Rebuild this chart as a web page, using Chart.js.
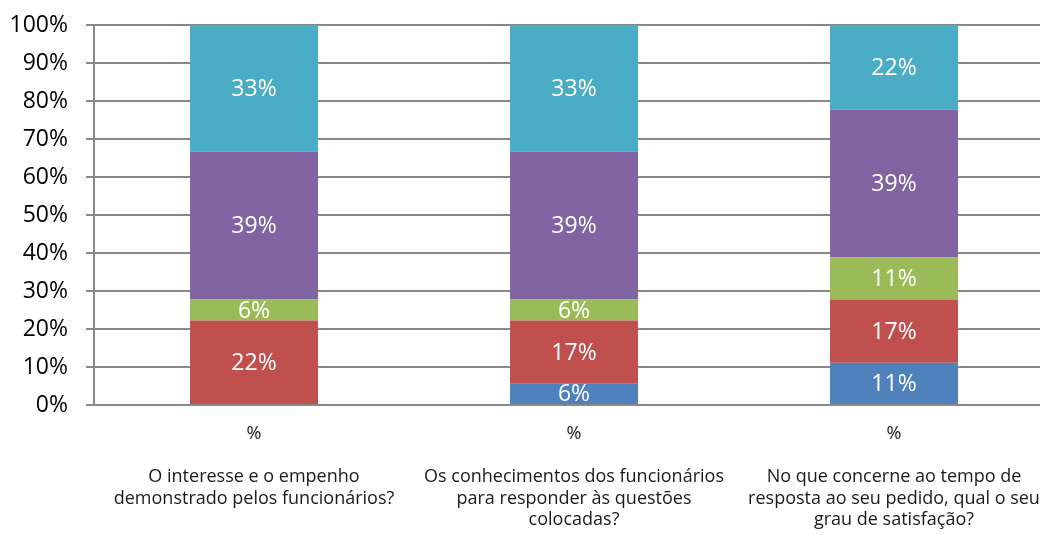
<!DOCTYPE html>
<html lang="pt">
<head>
  <meta charset="UTF-8">
  <title>Grau de satisfação</title>
  <script src="https://cdn.jsdelivr.net/npm/chart.js"></script>
  <style>
    html, body { margin: 0; padding: 0; background: #fff; overflow: hidden; }
    #wrap { width: 1060px; height: 535px; }
  </style>
</head>
<body>
<div id="wrap"><canvas id="myChart" width="1060" height="535"></canvas></div>
<script>
  // categorias (linha "%" + pergunta)
  const categories = [
    ["%", "", "O interesse e o empenho", "demonstrado pelos funcionários?"],
    ["%", "", "Os conhecimentos dos funcionários", "para responder às questões", "colocadas?"],
    ["%", "", "No que concerne ao tempo de", "resposta ao seu pedido, qual o seu", "grau de satisfação?"]
  ];
  // percentagens por série (de baixo para cima)
  const serie1 = [0, 5.56, 11.11];
  const serie2 = [22.22, 16.67, 16.67];
  const serie3 = [5.56, 5.56, 11.11];
  const serie4 = [38.89, 38.89, 38.89];
  const serie5 = [33.33, 33.33, 22.22];
  const yTicks = [0, 10, 20, 30, 40, 50, 60, 70, 80, 90, 100];

  const colors = ['#4F81BD', '#C0504D', '#9BBB59', '#8064A2', '#4BACC6'];
  const series = [serie1, serie2, serie3, serie4, serie5];

  // rótulos brancos no centro de cada segmento
  const valueLabels = {
    id: 'valueLabels',
    afterDatasetsDraw(chart) {
      const ctx = chart.ctx;
      ctx.save();
      ctx.font = '23px "Open Sans"';
      ctx.fillStyle = '#fff';
      ctx.textAlign = 'center';
      ctx.textBaseline = 'middle';
      chart.data.datasets.forEach((ds, i) => {
        const meta = chart.getDatasetMeta(i);
        meta.data.forEach((bar, j) => {
          const v = ds.data[j];
          if (!v) return;
          ctx.fillText(Math.round(v) + '%', bar.x, (bar.y + bar.base) / 2 + 1);
        });
      });
      ctx.restore();
    }
  };

  const ctx = document.getElementById('myChart').getContext('2d');
  new Chart(ctx, {
    type: 'bar',
    data: {
      labels: categories,
      datasets: series.map((s, i) => ({
        label: 'Série ' + (i + 1),
        data: s,
        backgroundColor: colors[i],
        borderWidth: 0,
        barPercentage: 0.4,
        categoryPercentage: 1.0
      }))
    },
    options: {
      responsive: false,
      animation: false,
      layout: { padding: { left: 10, top: 25, right: 6, bottom: 0 } },
      plugins: {
        legend: { display: false },
        tooltip: { enabled: false }
      },
      scales: {
        x: {
          stacked: true,
          grid: { display: false },
          border: { display: false },
          afterFit: s => { s.height = 130; },
          ticks: {
            color: '#1a1a1a',
            font: { family: 'Open Sans', size: 18, lineHeight: 1.2 },
            padding: 10,
            maxRotation: 0,
            autoSkip: false
          }
        },
        y: {
          stacked: true,
          min: 0,
          max: 100,
          afterBuildTicks: axis => { axis.ticks = yTicks.map(v => ({ value: v })); },
          afterFit: s => { s.width = 84; s.paddingTop = 0; s.paddingBottom = 0; },
          grid: { color: '#888888', lineWidth: 2, tickLength: 8 },
          border: { color: '#888888', width: 2 },
          ticks: {
            color: '#000',
            font: { family: 'Open Sans', size: 23 },
            padding: 18,
            callback: v => v + '%'
          }
        }
      }
    },
    plugins: [valueLabels]
  });
</script>
</body>
</html>
